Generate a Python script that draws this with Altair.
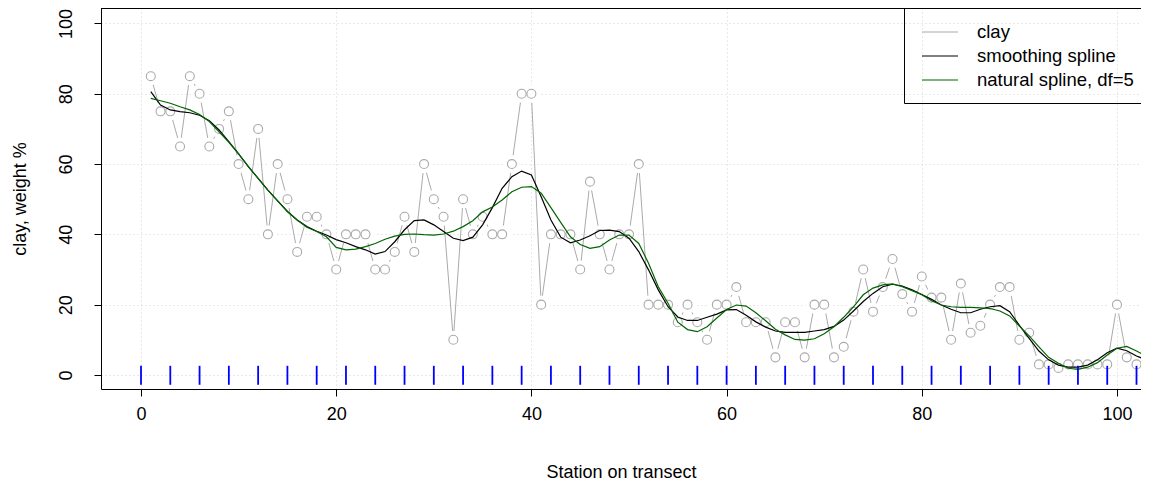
import altair as alt
import pandas as pd

# ---- data ----
station = list(range(1, 104))

clay = [85, 75, 75, 65, 85, 80, 65, 70, 75, 60,
        50, 70, 40, 60, 50, 35, 45, 45, 40, 30,
        40, 40, 40, 30, 30, 35, 45, 35, 60, 50,
        45, 10, 50, 40, 45, 40, 40, 60, 80, 80,
        20, 40, 40, 40, 30, 55, 40, 30, 40, 40,
        60, 20, 20, 20, 15, 20, 15, 10, 20, 20,
        25, 15, 15, 15, 5, 15, 15, 5, 20, 20,
        5, 8, 18, 30, 18, 25, 33, 23, 18, 28,
        22, 22, 10, 26, 12, 14, 20, 25, 25, 10,
        12, 3, 3, 2, 3, 3, 3, 3, 3, 20,
        5, 3, 3]

smooth_spline = [80.6, 76.8, 75.4, 74.9, 74.6, 73.9, 72.3, 69.7, 66.4, 62.9,
                 59.3, 55.9, 52.6, 49.5, 46.5, 44.1, 42.2, 40.9, 39.8, 38.5,
                 37.6, 36.5, 35.6, 34.4, 35.1, 37.9, 41.3, 43.9, 44.1, 42.7,
                 40.8, 38.9, 38.2, 39.2, 42.7, 47.6, 53.1, 56.4, 58.0, 56.9,
                 50.7, 44.1, 39.2, 37.6, 38.4, 39.6, 41.1, 41.2, 40.8, 38.9,
                 35.1, 29.9, 24.2, 19.4, 16.5, 15.5, 15.5, 16.4, 17.3, 18.5,
                 18.6, 17.0, 15.1, 13.6, 12.5, 12.1, 12.1, 12.1, 12.5, 12.9,
                 13.8, 15.6, 18.2, 20.9, 23.2, 25.1, 25.8, 25.3, 24.2, 22.9,
                 21.5, 19.9, 18.7, 17.7, 17.7, 18.7, 19.4, 19.7, 18.0, 14.1,
                 10.4, 6.8, 4.3, 2.8, 2.2, 2.2, 2.8, 4.3, 6.3, 7.6,
                 6.9, 5.4, 4.3]

natural_spline = [78.7, 78.0, 77.3, 76.3, 75.4, 74.1, 72.1, 69.2, 66.2, 62.9,
                  59.3, 55.9, 52.6, 49.5, 46.5, 44.1, 42.0, 40.8, 39.3, 36.3,
                  35.6, 35.8, 36.5, 37.4, 38.6, 39.5, 40.0, 40.1, 39.9, 39.8,
                  40.1, 40.9, 42.2, 43.9, 46.4, 47.8, 49.8, 52.1, 53.4, 53.6,
                  51.7, 47.6, 43.4, 39.3, 37.1, 36.0, 36.5, 38.4, 39.8, 39.8,
                  37.4, 31.8, 25.1, 20.4, 15.0, 12.9, 12.3, 13.7, 16.2, 18.6,
                  19.9, 19.6, 17.7, 15.4, 13.0, 11.4, 10.1, 9.9, 10.3, 11.7,
                  13.7, 16.4, 19.4, 22.8, 24.7, 25.6, 25.9, 25.1, 24.0, 22.8,
                  21.1, 19.9, 19.4, 19.2, 19.2, 19.1, 18.9, 18.2, 16.8, 13.9,
                  11.1, 8.0, 5.0, 3.3, 1.9, 1.6, 2.2, 3.5, 5.7, 7.6,
                  8.1, 6.8, 5.4]

knots = [0, 3, 6, 9, 12, 15, 18, 21, 24, 27, 30, 33, 36, 39, 42, 45, 48,
         51, 54, 57, 60, 63, 66, 69, 72, 75, 78, 81, 84, 87, 90, 93, 96, 99, 102]

x_ticks = [0, 20, 40, 60, 80, 100]
y_ticks = [0, 20, 40, 60, 80, 100]

legend_labels = ["clay", "smoothing spline", "natural spline, df=5"]
legend_colors = ["#AAAAAA", "#000000", "#006400"]

df = pd.DataFrame({"station": station, "clay": clay,
                   "ss": smooth_spline, "ns": natural_spline})
knot_df = pd.DataFrame({"station": knots})

FONT = "Liberation Sans"
FS = 18

xscale = alt.Scale(domain=[-4.1, 102.46], nice=False, zero=False)
yscale = alt.Scale(domain=[-4, 104.4], nice=False, zero=False)

xaxis = alt.Axis(values=x_ticks, format="d", title="Station on transect",
                 grid=True, gridDash=[1, 3], gridColor="#D3D3D3",
                 tickSize=7, tickColor="black", domainColor="black",
                 labelFontSize=FS, labelBaseline="middle", labelPadding=18,
                 labelFlush=False, labelColor="black",
                 titleFontSize=FS, titleFontWeight="normal", titleColor="black",
                 titleY=83, titleBaseline="middle")
yaxis = alt.Axis(values=y_ticks, format="d", title="clay, weight %",
                 grid=True, gridDash=[1, 3], gridColor="#D3D3D3",
                 tickSize=7, tickColor="black", domainColor="black",
                 labelFontSize=FS, labelAngle=270, labelAlign="center",
                 labelBaseline="middle", labelPadding=28, labelFlush=False,
                 labelColor="black",
                 titleFontSize=FS, titleFontWeight="normal", titleColor="black",
                 titleX=-81, titleBaseline="middle")


def X(field="station"):
    return alt.X(f"{field}:Q", scale=xscale, axis=xaxis)


def Y(field):
    return alt.Y(f"{field}:Q", scale=yscale, axis=yaxis)


base = alt.Chart(df)

clay_line = base.mark_line(color=legend_colors[0], strokeWidth=1).encode(x=X(), y=Y("clay"))
halo = base.mark_circle(color="white", opacity=1, size=330).encode(x=X(), y=Y("clay"))
pts = base.mark_point(shape="circle", filled=False, color=legend_colors[0],
                      size=80, strokeWidth=1.1, opacity=1).encode(x=X(), y=Y("clay"))
ss_line = base.mark_line(color=legend_colors[1], strokeWidth=1.2).encode(x=X(), y=Y("ss"))
ns_line = base.mark_line(color=legend_colors[2], strokeWidth=1.2).encode(x=X(), y=Y("ns"))

rug = alt.Chart(knot_df).mark_rule(color="#0000FF", strokeWidth=1.8).encode(
    x=X(), y=alt.datum(-2.8), y2=alt.datum(2.6))

one = pd.DataFrame({"a": [0]})

top_border = alt.Chart(one).mark_rule(color="black", strokeWidth=1).encode(
    y=alt.value(0.5))

# legend (drawn by hand, like R's legend box)
leg_box = alt.Chart(one).mark_rect(
    fill="white", fillOpacity=0, stroke="black", strokeWidth=1).encode(
    x=alt.value(803.5), x2=alt.value(1080), y=alt.value(0.5), y2=alt.value(95.5))

leg_rows = [24, 48, 72]
leg_layers = []
for lab, col, yy in zip(legend_labels, legend_colors, leg_rows):
    leg_layers.append(
        alt.Chart(one).mark_rule(color=col, strokeWidth=1.2).encode(
            x=alt.value(821), x2=alt.value(857), y=alt.value(yy)))
    leg_layers.append(
        alt.Chart(one).mark_text(
            text=lab, align="left", baseline="middle", font=FONT, fontSize=18.5,
            color="black").encode(x=alt.value(876), y=alt.value(yy)))

chart = alt.layer(clay_line, halo, pts, ss_line, ns_line, rug, top_border,
                  leg_box, *leg_layers).properties(
    width=1040, height=381,
    autosize=alt.AutoSizeParams(type="none"),
    padding={"left": 93, "top": 0, "right": 0, "bottom": 94},
).configure_view(stroke="transparent").configure_axis(
    labelFont=FONT, titleFont=FONT)

chart.save("out.html", embed_options={"renderer": "svg", "actions": False})
